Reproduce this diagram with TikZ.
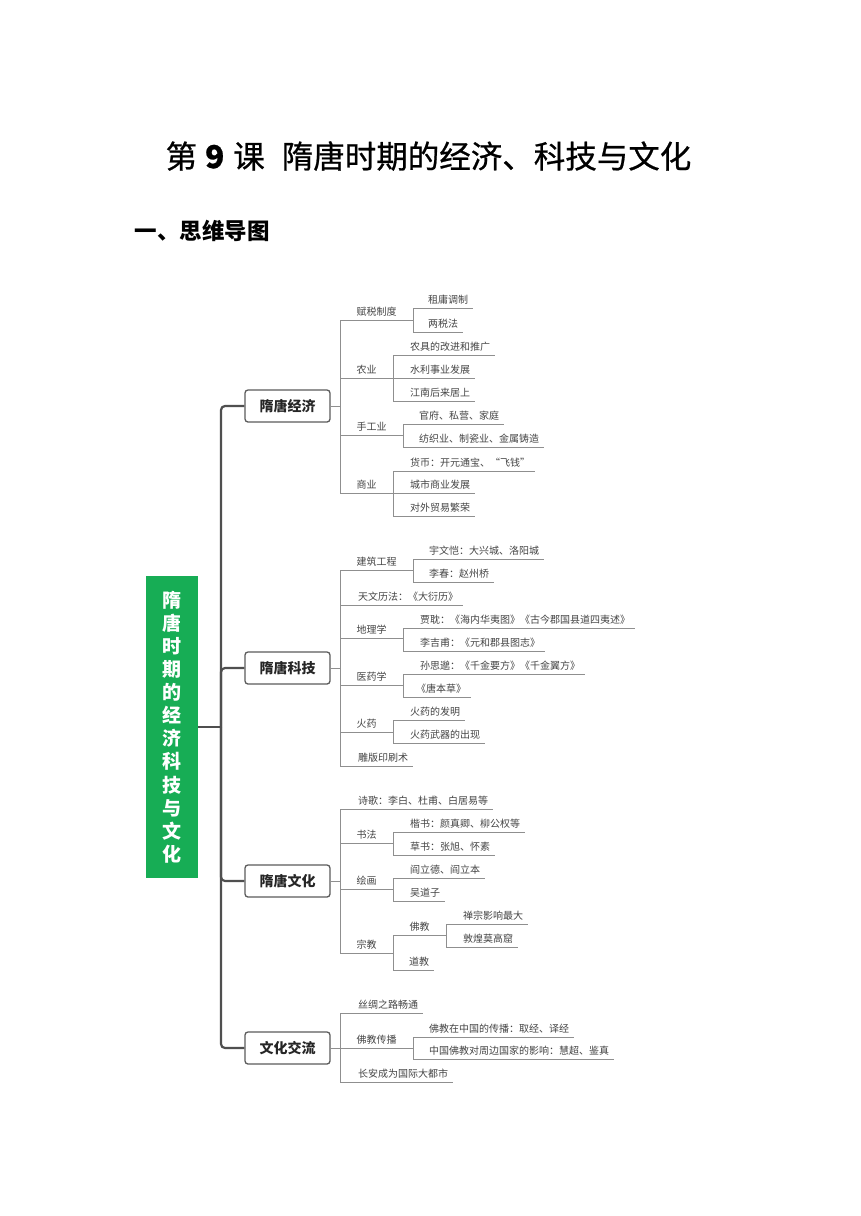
\documentclass[tikz,border=0pt]{standalone}
\usepackage{fontspec}
\setmainfont{Noto Sans CJK SC}
\newfontfamily\titlefont[FakeBold=0.7]{Noto Sans CJK SC}
\definecolor{mmGreen}{HTML}{17AD55}
\definecolor{mmTrunk}{HTML}{4F4F4F}
\definecolor{mmBoxLine}{HTML}{5C5C5C}
\definecolor{mmLink}{HTML}{8F8F8F}
\definecolor{mmText}{HTML}{454545}
\definecolor{mmDark}{HTML}{262626}

\begin{document}
\begin{tikzpicture}[x=1pt,y=-1pt,
  leaf/.style={anchor=south west,inner xsep=0pt,inner ysep=2.5pt,text height=8.5pt,text depth=1.5pt,
               text=mmText,font=\fontsize{10}{12}\selectfont},
  midleaf/.style={leaf,anchor=south},
  topic/.style={draw=mmBoxLine,line width=1.3pt,rounded corners=3pt,fill=white,inner sep=0pt,
                minimum width=85,minimum height=32,text=mmDark,font=\bfseries\fontsize{14}{16}\selectfont},
  rootbox/.style={fill=mmGreen,text=white,inner sep=0pt,minimum width=52,minimum height=302,
                  align=center,font=\bfseries\fontsize{19}{23.1}\selectfont},
  link/.style={draw=mmLink,line width=0.8pt},
  trunk/.style={draw=mmTrunk,line width=2.2pt,rounded corners=4pt}]
  \useasboundingbox[fill=white] (0,0) rectangle (860,1216);

  % ---- headings ----
  \node[font=\titlefont\fontsize{31.5}{38}\selectfont] (title) at (428.5,156)
        {第\hspace{8pt}\textbf{9}\hspace{9pt}课\hspace{17pt}隋唐时期的经济、科技与文化};
  \node[anchor=west,font=\bfseries\fontsize{22.5}{27}\selectfont] (heading) at (131,231) {一、思维导图};

  % ---- root and main topics ----
  \node[rootbox] (root) at (172,727) {隋\\唐\\时\\期\\的\\经\\济\\科\\技\\与\\文\\化};
  \node[topic] (econ) at (287.5,406)  {隋唐经济};
  \node[topic] (tech) at (287.5,668)  {隋唐科技};
  \node[topic] (cult) at (287.5,881)  {隋唐文化};
  \node[topic] (exch) at (287.5,1048) {文化交流};

  \coordinate (trunk) at (221,727);
  \draw[trunk] (root.east) -- (trunk);
  \foreach \t in {econ,tech,cult,exch}
    \draw[trunk] (trunk) |- (\t.west);

  % ---- junctions ----
  \coordinate (econ-j) at (340,406);
  \coordinate (tech-j) at (340,668);
  \coordinate (cult-j) at (340,881);
  \coordinate (exch-j) at (340,1048);
  \coordinate (fs-j) at (413,320);
  \coordinate (ny-j) at (393,378);
  \coordinate (sg-j) at (403,435);
  \coordinate (sy-j) at (393,493);
  \coordinate (jz-j) at (413,570);
  \coordinate (dl-j) at (403,638);
  \coordinate (yy-j) at (403,685);
  \coordinate (hy-j) at (393,732);
  \coordinate (sf-j) at (393,843);
  \coordinate (hh-j) at (393,889);
  \coordinate (zj-j) at (393,953);
  \coordinate (fj-j) at (446,935);
  \coordinate (fc-j) at (413,1048);

  % ---- 隋唐经济 ----
  \node[midleaf] (fs) at (376.5,320) {赋税制度};
  \node[leaf] (fs1) at (428,308) {租庸调制};
  \node[leaf] (fs2) at (428,332) {两税法};
  \node[midleaf] (ny) at (366.5,378) {农业};
  \node[leaf] (ny1) at (410,355) {农具的改进和推广};
  \node[leaf] (ny2) at (410,378) {水利事业发展};
  \node[leaf] (ny3) at (410,401) {江南后来居上};
  \node[midleaf] (sg) at (371.5,435) {手工业};
  \node[leaf] (sg1) at (419,424) {官府、私营、家庭};
  \node[leaf] (sg2) at (419,447) {纺织业、制瓷业、金属铸造};
  \node[midleaf] (sy) at (366.5,493) {商业};
  \node[leaf] (sy1) at (410,471) {货币：开元通宝、“飞钱”};
  \node[leaf] (sy2) at (410,493) {城市商业发展};
  \node[leaf] (sy3) at (410,516) {对外贸易繁荣};

  % ---- 隋唐科技 ----
  \node[midleaf] (jz) at (376.5,570) {建筑工程};
  \node[leaf] (jz1) at (429,559) {宇文恺：大兴城、洛阳城};
  \node[leaf] (jz2) at (429,582) {李春：赵州桥};
  \node[leaf] (tw) at (358,605) {天文历法：《大衍历》};
  \node[midleaf] (dl) at (371.5,638) {地理学};
  \node[leaf] (dl1) at (420,628) {贾耽：《海内华夷图》《古今郡国县道四夷述》};
  \node[leaf] (dl2) at (420,651) {李吉甫：《元和郡县图志》};
  \node[midleaf] (yy) at (371.5,685) {医药学};
  \node[leaf] (yy1) at (420,674) {孙思邈：《千金要方》《千金翼方》};
  \node[leaf] (yy2) at (416,697) {《唐本草》};
  \node[midleaf] (hy) at (366.5,732) {火药};
  \node[leaf] (hy1) at (410,720) {火药的发明};
  \node[leaf] (hy2) at (410,743) {火药武器的出现};
  \node[leaf] (yb) at (358,766) {雕版印刷术};

  % ---- 隋唐文化 ----
  \node[leaf] (sh) at (358,809) {诗歌：李白、杜甫、白居易等};
  \node[midleaf] (sf) at (366.5,843) {书法};
  \node[leaf] (sf1) at (410,832) {楷书：颜真卿、柳公权等};
  \node[leaf] (sf2) at (410,855) {草书：张旭、怀素};
  \node[midleaf] (hh) at (366.5,889) {绘画};
  \node[leaf] (hh1) at (410,878) {阎立德、阎立本};
  \node[leaf] (hh2) at (410,901) {吴道子};
  \node[midleaf] (zj) at (366.5,953) {宗教};
  \node[midleaf] (fj) at (419.5,935) {佛教};
  \node[leaf] (fj1) at (463,924) {禅宗影响最大};
  \node[leaf] (fj2) at (463,947) {敦煌莫高窟};
  \node[leaf] (dj) at (409,970) {道教};

  % ---- 文化交流 ----
  \node[leaf] (sc) at (358,1013) {丝绸之路畅通};
  \node[midleaf] (fc) at (376.5,1048) {佛教传播};
  \node[leaf] (fc1) at (429,1037) {佛教在中国的传播：取经、译经};
  \node[leaf] (fc2) at (429,1059) {中国佛教对周边国家的影响：慧超、鉴真};
  \node[leaf] (ca) at (358,1082) {长安成为国际大都市};

  % ---- connectors ----
  \foreach \t in {econ,tech,cult,exch}
    \draw[link] (\t.east) -- (\t-j);
  \foreach \p/\c in {econ-j/fs-j, econ-j/ny-j, econ-j/sg-j, econ-j/sy-j,
                     tech-j/jz-j, tech-j/dl-j, tech-j/yy-j, tech-j/hy-j,
                     cult-j/sf-j, cult-j/hh-j, cult-j/zj-j, zj-j/fj-j, exch-j/fc-j}
    \draw[link] (\p) |- (\c);
  \foreach \p/\c in {fs-j/fs1, fs-j/fs2, ny-j/ny1, ny-j/ny2, ny-j/ny3,
                     sg-j/sg1, sg-j/sg2, sy-j/sy1, sy-j/sy2, sy-j/sy3,
                     jz-j/jz1, jz-j/jz2, tech-j/tw, dl-j/dl1, dl-j/dl2,
                     yy-j/yy1, yy-j/yy2, hy-j/hy1, hy-j/hy2, tech-j/yb,
                     cult-j/sh, sf-j/sf1, sf-j/sf2, hh-j/hh1, hh-j/hh2,
                     fj-j/fj1, fj-j/fj2, zj-j/dj,
                     exch-j/sc, fc-j/fc1, fc-j/fc2, exch-j/ca}
    \draw[link] (\p) |- ([xshift=5pt]\c.south east);
\end{tikzpicture}
\end{document}
